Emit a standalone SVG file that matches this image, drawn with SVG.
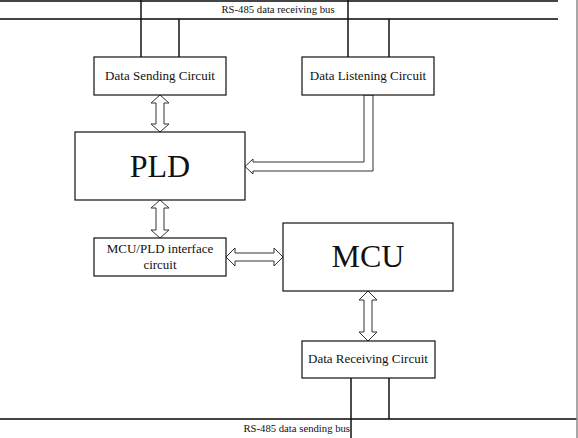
<svg xmlns="http://www.w3.org/2000/svg" width="578" height="438" viewBox="0 0 578 438">
  <style>
    .box { fill: #fff; stroke: #111; stroke-width: 1.2; }
    .wire { stroke: #111; stroke-width: 1.5; fill: none; }
    .bus { stroke: #444; stroke-width: 2; fill: none; }
    .arrow { fill: #fff; stroke: #333; stroke-width: 1; }
    .t { font-family: "Liberation Serif", "Times New Roman", serif; fill: #111; text-anchor: middle; }
    .s { font-size: 13px; }
    .b { font-size: 10.7px; }
    .big { font-size: 32px; }
  </style>
  <rect x="0" y="0" width="578" height="438" fill="#fff"/>
  <g id="buses">
    <line class="bus" x1="0" y1="1" x2="558" y2="1"/>
    <line class="bus" x1="0" y1="19" x2="558" y2="19"/>
    <text class="t b" x="278" y="13">RS-485 data receiving bus</text>
    <line class="bus" x1="0" y1="419" x2="577" y2="419"/>
    <text class="t b" x="350" y="432" style="text-anchor:end">RS-485 data sending bus</text>
    <line x1="577" y1="0" x2="577" y2="438" stroke="#888" stroke-width="1.5"/>
  </g>
  <g id="connectors">
    <line class="wire" x1="141" y1="0" x2="141" y2="57"/>
    <line class="wire" x1="179" y1="19" x2="179" y2="57"/>
    <line class="wire" x1="348" y1="0" x2="348" y2="57"/>
    <line class="wire" x1="389" y1="19" x2="389" y2="57"/>
    <line class="wire" x1="351" y1="378" x2="351" y2="438"/>
    <line class="wire" x1="389" y1="378" x2="389" y2="419"/>
    <polygon class="arrow" points="160,95 169,103 164,103 164,124 169,124 160,132 151,124 156,124 156,103 151,103"/>
    <polygon class="arrow" points="160,200 169,208 164,208 164,230 169,230 160,238 151,230 156,230 156,208 151,208"/>
    <polygon class="arrow" points="226,257 235,248 235,253 274,253 274,248 283,257 274,266 274,261 235,261 235,266"/>
    <polygon class="arrow" points="368,291 377,300 372,300 372,332 377,332 368,341 359,332 364,332 364,300 359,300"/>
    <polygon class="arrow" points="373,95 373,171 253,171 253,174 245,166.5 253,159 253,162 364,162 364,95"/>
  </g>
  <g id="data-sending">
    <rect class="box" x="94" y="57" width="132" height="38"/>
    <text class="t s" x="160" y="80">Data Sending Circuit</text>
  </g>
  <g id="data-listening">
    <rect class="box" x="302" y="57" width="132" height="38"/>
    <text class="t s" x="368" y="80">Data Listening Circuit</text>
  </g>
  <g id="pld">
    <rect class="box" x="75" y="132" width="170" height="68"/>
    <text class="t big" x="160" y="177">PLD</text>
  </g>
  <g id="interface">
    <rect class="box" x="94" y="238" width="132" height="38"/>
    <text class="t s" x="160" y="253">MCU/PLD interface</text>
    <text class="t s" x="160" y="269">circuit</text>
  </g>
  <g id="mcu">
    <rect class="box" x="283" y="223" width="170" height="68"/>
    <text class="t big" x="368" y="267">MCU</text>
  </g>
  <g id="data-receiving">
    <rect class="box" x="302" y="341" width="133" height="37"/>
    <text class="t s" x="368" y="363">Data Receiving Circuit</text>
  </g>
</svg>
